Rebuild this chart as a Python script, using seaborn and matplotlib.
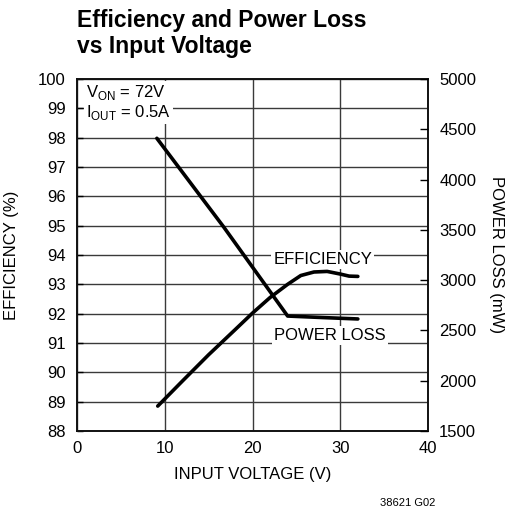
import matplotlib
matplotlib.use("Agg")
import matplotlib.pyplot as plt
import pandas as pd
import seaborn as sns
from matplotlib import font_manager

# values
eff_vin = [9.2, 12, 15, 18, 20, 22, 24, 25.5, 27, 28.5, 30, 31, 32]
eff_pct = [88.85, 89.7, 90.6, 91.45, 92.02, 92.55, 93.0, 93.3, 93.42, 93.44, 93.35, 93.28, 93.27]

loss_vin = [9.1, 16.7, 24, 28, 32]
loss_mw = [4410, 3530, 2643, 2628, 2614]

eff_ticks = list(range(88, 101))
loss_ticks = list(range(1500, 5001, 500))
vin_ticks = [0, 10, 20, 30, 40]

sns.set_style("white")
names = {f.name for f in font_manager.fontManager.ttflist}
narrow = "Liberation Sans Narrow" if "Liberation Sans Narrow" in names else "Liberation Sans"
plt.rcParams["font.family"] = [narrow, "DejaVu Sans"]
plt.rcParams["mathtext.fontset"] = "custom"
plt.rcParams["mathtext.rm"] = narrow
for key in ["text.color", "axes.labelcolor", "xtick.color", "ytick.color"]:
    plt.rcParams[key] = "black"

fs = 12

fig = plt.figure(figsize=(5.14, 5.17), dpi=100)
ax = fig.add_axes([0.1498, 0.1663, 0.683, 0.681])

eff_df = pd.DataFrame({"vin": eff_vin, "eff": eff_pct})
loss_df = pd.DataFrame({"vin": loss_vin, "loss": loss_mw})

sns.lineplot(data=eff_df, x="vin", y="eff", ax=ax, color="black", linewidth=2.6, zorder=3)
ax.set_xlim(0, 40)
ax.set_ylim(88, 100)
ax.set_xticks(vin_ticks)
ax.set_yticks(eff_ticks)
ax.grid(True, color="#3a3a3a", linewidth=1.0)
ax.tick_params(axis="y", direction="in", length=4, width=1, labelsize=fs, pad=8)
ax.tick_params(axis="x", length=0, labelsize=fs, pad=7)
ax.set_xlabel("INPUT VOLTAGE (V)", fontsize=fs, labelpad=8)
ax.set_ylabel("EFFICIENCY (%)", fontsize=fs, labelpad=14)
for sp in ax.spines.values():
    sp.set_color("#111111")
    sp.set_linewidth(1.4)

ax2 = ax.twinx()
sns.lineplot(data=loss_df, x="vin", y="loss", ax=ax2, color="black", linewidth=2.6, zorder=3)
ax2.set_ylim(1500, 5000)
ax2.set_yticks(loss_ticks)
ax2.tick_params(axis="y", direction="in", length=6, width=1, labelsize=fs, pad=8)
ax2.set_ylabel("POWER LOSS (mW)", fontsize=fs, rotation=-90, labelpad=20)
ax2.grid(False)
for sp in ax2.spines.values():
    sp.set_visible(False)

box = dict(facecolor="white", edgecolor="none", pad=1.5)
ax.text(28.0, 93.86, "EFFICIENCY", fontsize=fs, ha="center", va="center", bbox=box, zorder=4)
ax.text(28.8, 91.27, "POWER LOSS", fontsize=fs, ha="center", va="center", bbox=box, zorder=4)
ax.text(1.0, 99.2, r"V$_{\mathregular{ON}}$ = 72V" + "\n" + r"I$_{\mathregular{OUT}}$ = 0.5A",
        fontsize=fs, ha="left", va="center", linespacing=1.1, bbox=box, zorder=4)

fig.text(0.1498, 0.982, "Efficiency and Power Loss\nvs Input Voltage", fontsize=16.5,
         fontweight="bold", ha="left", va="top", linespacing=1.15)
fig.text(0.74, 0.018, "38621 G02", fontsize=8, ha="left", va="bottom")

fig.savefig("out.png", dpi=100)
